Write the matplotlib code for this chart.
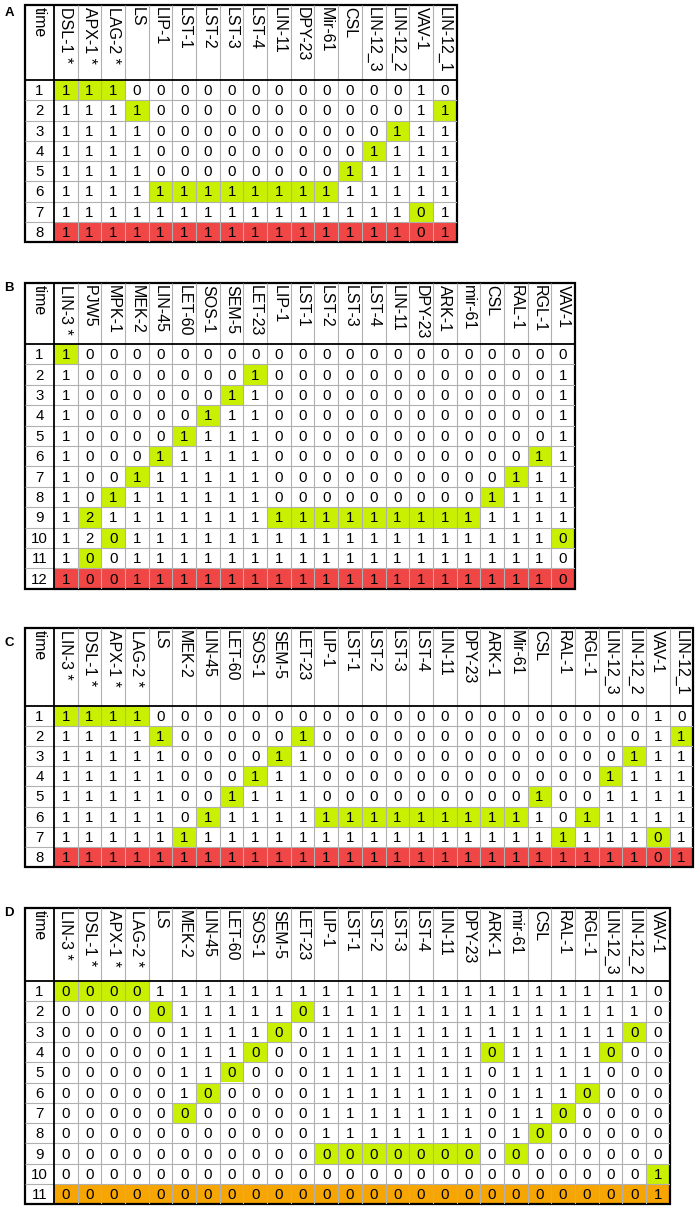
import matplotlib.pyplot as plt
from matplotlib.patches import Rectangle

plt.rcParams['font.family'] = ['Liberation Sans', 'DejaVu Sans']

# =============================
# Data
# =============================
A_cols = ["DSL-1 *", "APX-1 *", "LAG-2 *", "LS", "LIP-1", "LST-1", "LST-2", "LST-3",
          "LST-4", "LIN-11", "DPY-23", "Mir-61", "CSL", "LIN-12_3", "LIN-12_2", "VAV-1", "LIN-12_1"]
A_vals = [
    "1 1 1 0 0 0 0 0 0 0 0 0 0 0 0 1 0",
    "1 1 1 1 0 0 0 0 0 0 0 0 0 0 0 1 1",
    "1 1 1 1 0 0 0 0 0 0 0 0 0 0 1 1 1",
    "1 1 1 1 0 0 0 0 0 0 0 0 0 1 1 1 1",
    "1 1 1 1 0 0 0 0 0 0 0 0 1 1 1 1 1",
    "1 1 1 1 1 1 1 1 1 1 1 1 1 1 1 1 1",
    "1 1 1 1 1 1 1 1 1 1 1 1 1 1 1 0 1",
    "1 1 1 1 1 1 1 1 1 1 1 1 1 1 1 0 1",
]
# highlighted (green) columns per row
A_hl = [[0, 1, 2], [3, 16], [14], [13], [12], [4, 5, 6, 7, 8, 9, 10, 11], [15], []]

B_cols = ["LIN-3 *", "PJW5", "MPK-1", "MEK-2", "LIN-45", "LET-60", "SOS-1", "SEM-5", "LET-23",
          "LIP-1", "LST-1", "LST-2", "LST-3", "LST-4", "LIN-11", "DPY-23", "ARK-1", "mir-61",
          "CSL", "RAL-1", "RGL-1", "VAV-1"]
B_vals = [
    "1 0 0 0 0 0 0 0 0 0 0 0 0 0 0 0 0 0 0 0 0 0",
    "1 0 0 0 0 0 0 0 1 0 0 0 0 0 0 0 0 0 0 0 0 1",
    "1 0 0 0 0 0 0 1 1 0 0 0 0 0 0 0 0 0 0 0 0 1",
    "1 0 0 0 0 0 1 1 1 0 0 0 0 0 0 0 0 0 0 0 0 1",
    "1 0 0 0 0 1 1 1 1 0 0 0 0 0 0 0 0 0 0 0 0 1",
    "1 0 0 0 1 1 1 1 1 0 0 0 0 0 0 0 0 0 0 0 1 1",
    "1 0 0 1 1 1 1 1 1 0 0 0 0 0 0 0 0 0 0 1 1 1",
    "1 0 1 1 1 1 1 1 1 0 0 0 0 0 0 0 0 0 1 1 1 1",
    "1 2 1 1 1 1 1 1 1 1 1 1 1 1 1 1 1 1 1 1 1 1",
    "1 2 0 1 1 1 1 1 1 1 1 1 1 1 1 1 1 1 1 1 1 0",
    "1 0 0 1 1 1 1 1 1 1 1 1 1 1 1 1 1 1 1 1 1 0",
    "1 0 0 1 1 1 1 1 1 1 1 1 1 1 1 1 1 1 1 1 1 0",
]
B_hl = [[0], [8], [7], [6], [5], [4, 20], [3, 19], [2, 18],
        [1, 9, 10, 11, 12, 13, 14, 15, 16, 17], [2, 21], [1], []]

C_cols = ["LIN-3 *", "DSL-1 *", "APX-1 *", "LAG-2 *", "LS", "MEK-2", "LIN-45", "LET-60",
          "SOS-1", "SEM-5", "LET-23", "LIP-1", "LST-1", "LST-2", "LST-3", "LST-4", "LIN-11",
          "DPY-23", "ARK-1", "Mir-61", "CSL", "RAL-1", "RGL-1", "LIN-12_3", "LIN-12_2",
          "VAV-1", "LIN-12_1"]
C_vals = [
    "1 1 1 1 0 0 0 0 0 0 0 0 0 0 0 0 0 0 0 0 0 0 0 0 0 1 0",
    "1 1 1 1 1 0 0 0 0 0 1 0 0 0 0 0 0 0 0 0 0 0 0 0 0 1 1",
    "1 1 1 1 1 0 0 0 0 1 1 0 0 0 0 0 0 0 0 0 0 0 0 0 1 1 1",
    "1 1 1 1 1 0 0 0 1 1 1 0 0 0 0 0 0 0 0 0 0 0 0 1 1 1 1",
    "1 1 1 1 1 0 0 1 1 1 1 0 0 0 0 0 0 0 0 0 1 0 0 1 1 1 1",
    "1 1 1 1 1 0 1 1 1 1 1 1 1 1 1 1 1 1 1 1 1 0 1 1 1 1 1",
    "1 1 1 1 1 1 1 1 1 1 1 1 1 1 1 1 1 1 1 1 1 1 1 1 1 0 1",
    "1 1 1 1 1 1 1 1 1 1 1 1 1 1 1 1 1 1 1 1 1 1 1 1 1 0 1",
]
C_hl = [[0, 1, 2, 3], [4, 10, 26], [9, 24], [8, 23], [7, 20],
        [6, 11, 12, 13, 14, 15, 16, 17, 18, 19, 22], [5, 21, 25], []]

D_cols = ["LIN-3 *", "DSL-1 *", "APX-1 *", "LAG-2 *", "LS", "MEK-2", "LIN-45", "LET-60",
          "SOS-1", "SEM-5", "LET-23", "LIP-1", "LST-1", "LST-2", "LST-3", "LST-4", "LIN-11",
          "DPY-23", "ARK-1", "mir-61", "CSL", "RAL-1", "RGL-1", "LIN-12_3", "LIN-12_2", "VAV-1"]
D_vals = [
    "0 0 0 0 1 1 1 1 1 1 1 1 1 1 1 1 1 1 1 1 1 1 1 1 1 0",
    "0 0 0 0 0 1 1 1 1 1 0 1 1 1 1 1 1 1 1 1 1 1 1 1 1 0",
    "0 0 0 0 0 1 1 1 1 0 0 1 1 1 1 1 1 1 1 1 1 1 1 1 0 0",
    "0 0 0 0 0 1 1 1 0 0 0 1 1 1 1 1 1 1 0 1 1 1 1 0 0 0",
    "0 0 0 0 0 1 1 0 0 0 0 1 1 1 1 1 1 1 0 1 1 1 1 0 0 0",
    "0 0 0 0 0 1 0 0 0 0 0 1 1 1 1 1 1 1 0 1 1 1 0 0 0 0",
    "0 0 0 0 0 0 0 0 0 0 0 1 1 1 1 1 1 1 0 1 1 0 0 0 0 0",
    "0 0 0 0 0 0 0 0 0 0 0 1 1 1 1 1 1 1 0 1 0 0 0 0 0 0",
    "0 0 0 0 0 0 0 0 0 0 0 0 0 0 0 0 0 0 0 0 0 0 0 0 0 0",
    "0 0 0 0 0 0 0 0 0 0 0 0 0 0 0 0 0 0 0 0 0 0 0 0 0 1",
    "0 0 0 0 0 0 0 0 0 0 0 0 0 0 0 0 0 0 0 0 0 0 0 0 0 1",
]
D_hl = [[0, 1, 2, 3], [4, 10], [9, 24], [8, 18, 23], [7], [6, 22], [5, 21], [20],
        [11, 12, 13, 14, 15, 16, 17, 19], [25], []]

# =============================
# Style / layout (pixels)
# =============================
GREEN = "#c8f000"
RED = "#f04646"
ORANGE = "#f7a500"
GRID = "#b0b0b0"

W, H = 698, 1211
LEFT = 25
TIME_W = 29
COL_W = 23.68
FS = 10.8
FS_HEAD = 11.5

fig = plt.figure(figsize=(W / 100, H / 100), dpi=100)


def draw_panel(letter, cols, vals, hl, last_color, top, head_h, row_h, label_y):
    n_r, n_c = len(vals), len(cols)
    width = TIME_W + n_c * COL_W
    height = head_h + n_r * row_h
    ax = fig.add_axes([LEFT / W, 1 - (top + height) / H, width / W, height / H])
    tw = TIME_W / COL_W
    hh = head_h / row_h
    ax.set_xlim(-tw, n_c)
    ax.set_ylim(n_r, -hh)
    ax.axis("off")

    # cell fills
    for r, cs in enumerate(hl):
        for c in cs:
            ax.add_patch(Rectangle((c, r), 1, 1, fc=GREEN, lw=0))
    ax.add_patch(Rectangle((0, n_r - 1), n_c, 1, fc=last_color, lw=0))

    # grid
    ax.vlines(range(1, n_c), -hh, n_r, colors=GRID, lw=0.8)
    ax.hlines(range(1, n_r), -tw, n_c, colors=GRID, lw=0.8)
    ax.hlines(0, -tw, n_c, colors="k", lw=1.3)
    ax.vlines(0, -hh, n_r, colors="k", lw=1.3)
    ax.add_patch(Rectangle((-tw, -hh), tw + n_c, hh + n_r, fill=False,
                           ec="k", lw=1.6, clip_on=False))

    # cell text
    for r, row in enumerate(vals):
        ax.text(-tw / 2, r + 0.55, str(r + 1), ha="center", va="center", fontsize=FS)
        for c, v in enumerate(row.split()):
            ax.text(c + 0.5, r + 0.55, v, ha="center", va="center", fontsize=FS)

    # header
    ax.text(-tw / 2, -hh + 0.08, "time", rotation=270, ha="center", va="top",
            fontsize=FS_HEAD)
    for c, name in enumerate(cols):
        ax.text(c + 0.5, -hh + 0.08, name, rotation=270, ha="center", va="top",
                fontsize=FS_HEAD)

    fig.text(9 / W, 1 - label_y / H, letter, fontweight="bold", fontsize=9.5,
             ha="center", va="center")


draw_panel("A", A_cols, A_vals, A_hl, RED, top=5, head_h=75, row_h=20.25, label_y=13)
draw_panel("B", B_cols, B_vals, B_hl, RED, top=283, head_h=61, row_h=20.4, label_y=288)
draw_panel("C", C_cols, C_vals, C_hl, RED, top=628, head_h=78, row_h=20.1, label_y=643)
draw_panel("D", D_cols, D_vals, D_hl, ORANGE, top=908, head_h=73, row_h=20.3, label_y=913)

fig.savefig("out.png", dpi=100)
